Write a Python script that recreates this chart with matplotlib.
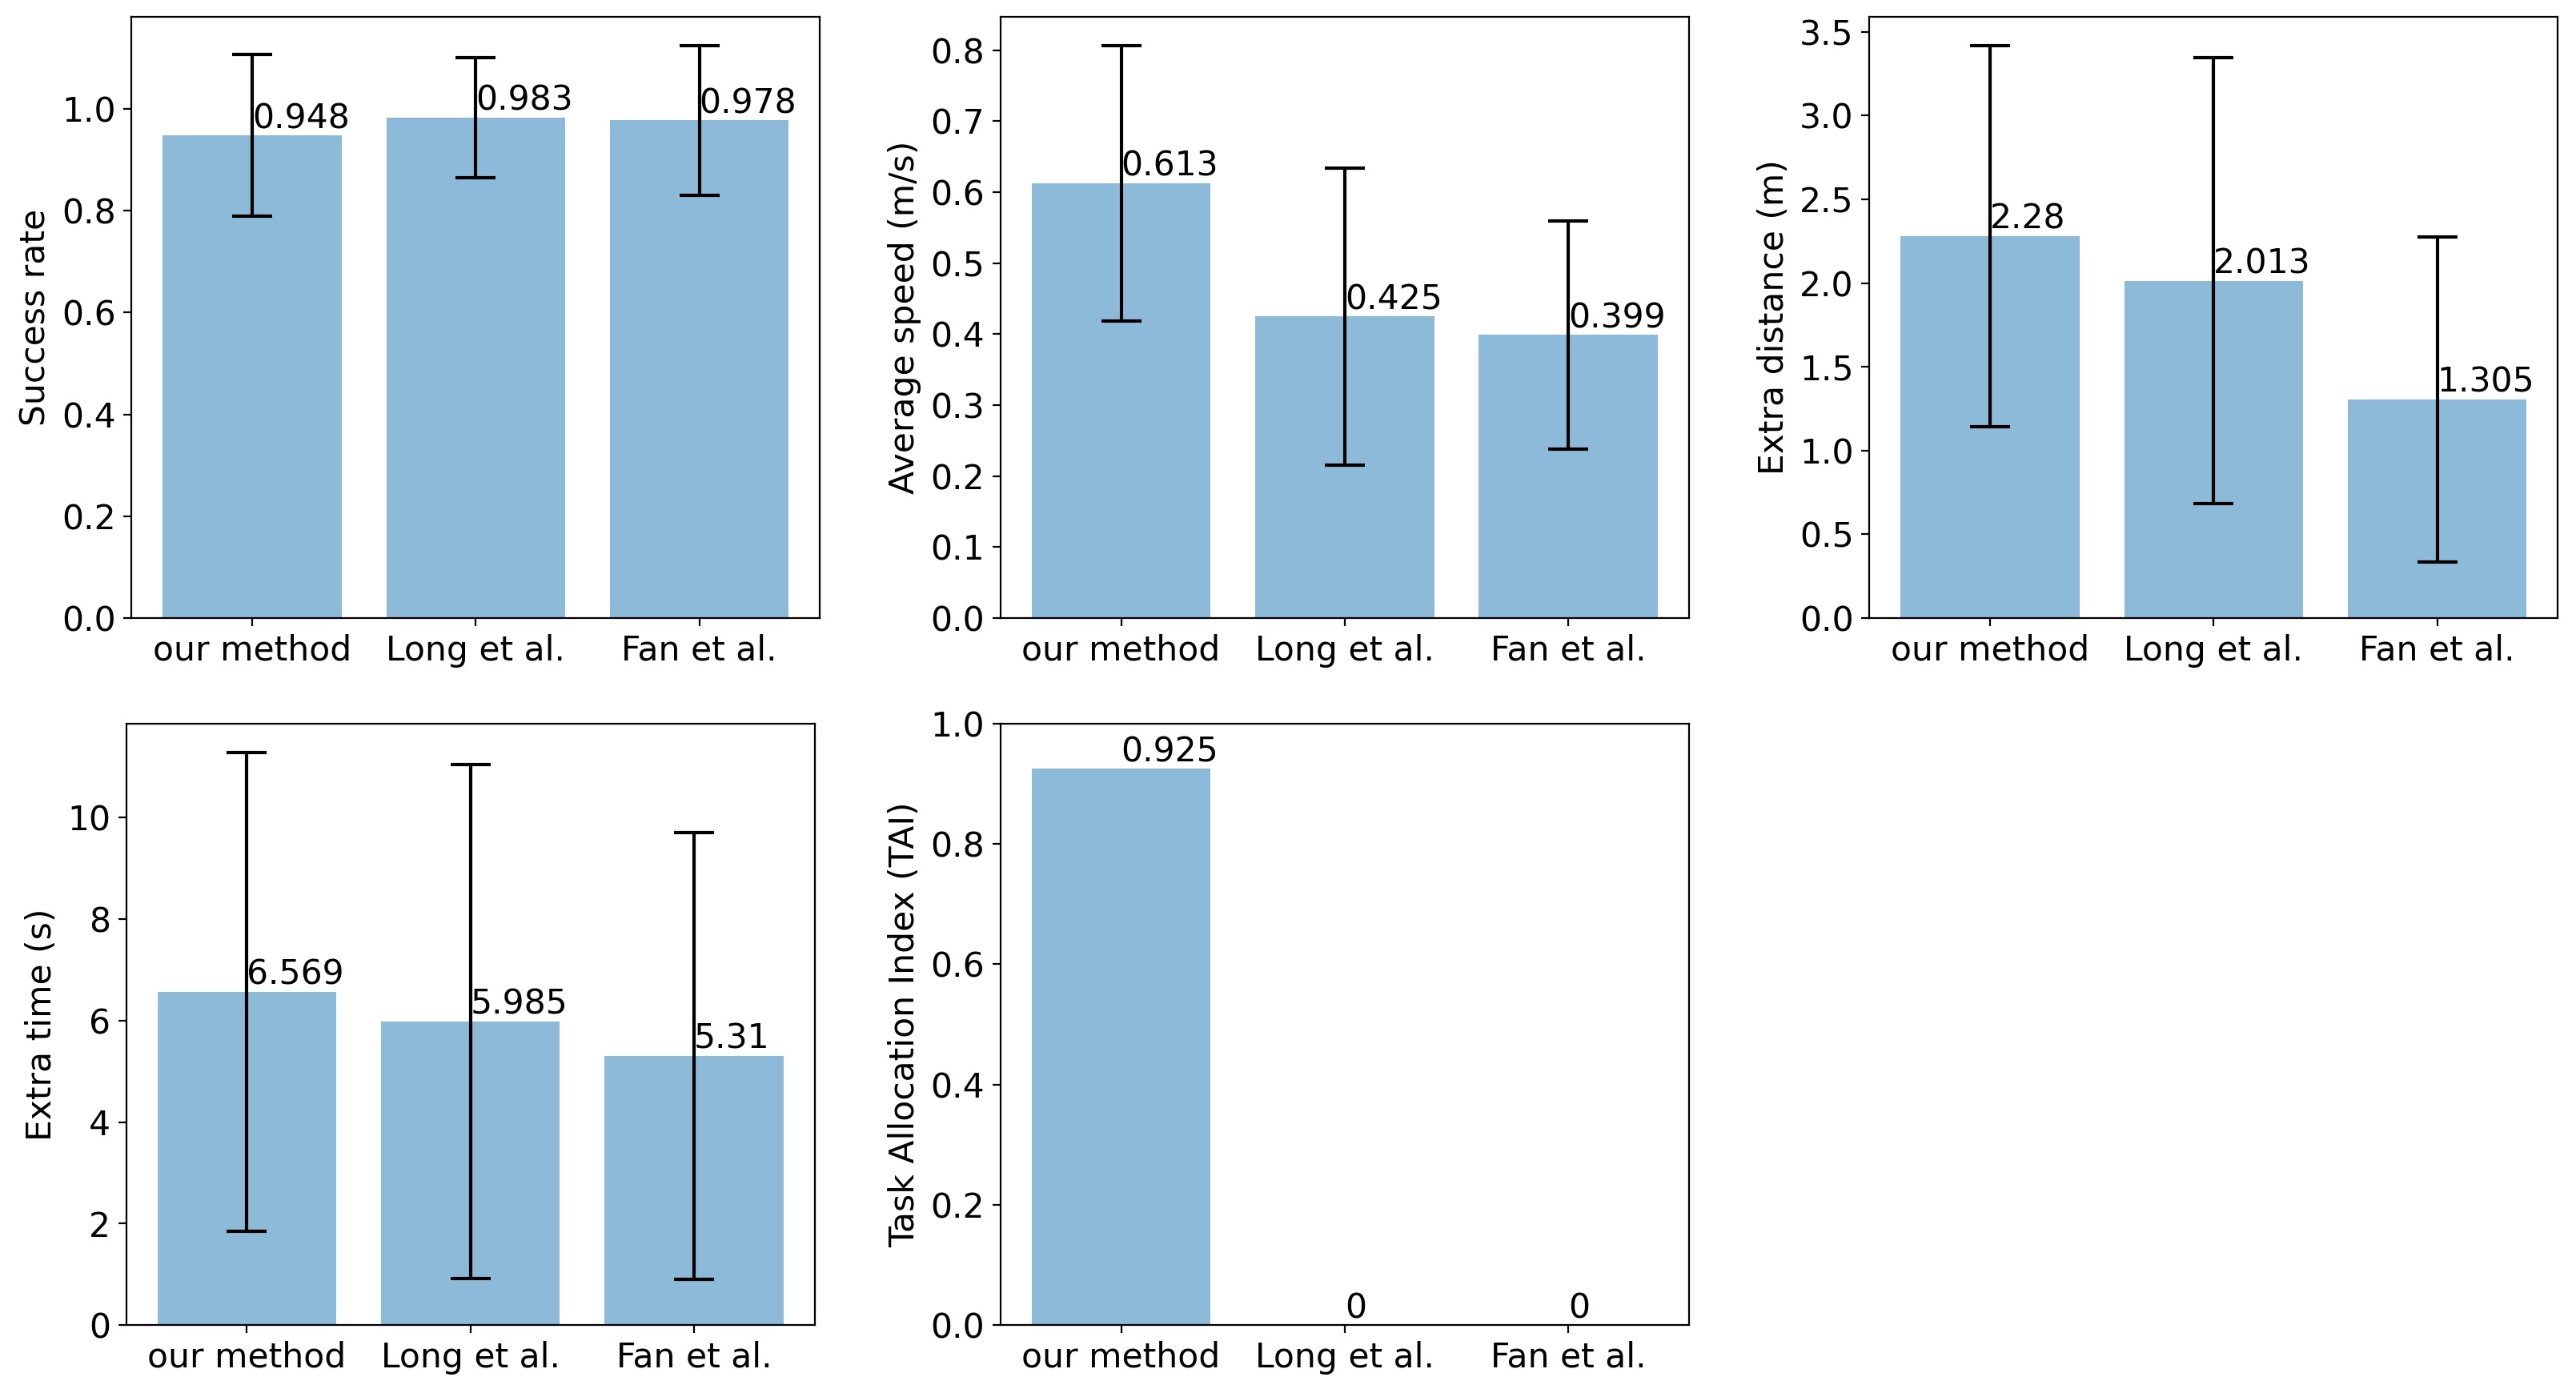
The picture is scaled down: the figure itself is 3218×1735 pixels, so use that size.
import numpy as np
import matplotlib
matplotlib.use('Agg')
import matplotlib.pyplot as plt
from matplotlib.ticker import MultipleLocator

plt.rcParams['font.size'] = 15.3

methods = ['our method', 'Long et al.', 'Fan et al.']

success_rate = [0.948, 0.983, 0.978]
success_err = [0.159, 0.118, 0.147]

avg_speed = [0.613, 0.425, 0.399]
speed_err = [0.194, 0.209, 0.161]

extra_dist = [2.28, 2.013, 1.305]
dist_err = [1.139, 1.33, 0.97]

extra_time = [6.569, 5.985, 5.31]
time_err = [4.72, 5.06, 4.40]

tai = [0.925, 0, 0]

tick_steps = [0.2, 0.1, 0.5, 2, 0.2]

panels = [
    (success_rate, success_err, 'Success rate'),
    (avg_speed, speed_err, 'Average speed (m/s)'),
    (extra_dist, dist_err, 'Extra distance (m)'),
    (extra_time, time_err, 'Extra time (s)'),
    (tai, None, 'Task Allocation Index (TAI)'),
]

fig, axes = plt.subplots(2, 3, figsize=(16.09, 8.675), dpi=200)
fig.subplots_adjust(left=0.051, right=0.993, bottom=0.046, top=0.988,
                    wspace=0.262, hspace=0.1755)
axes = axes.flatten()

x = np.arange(len(methods))
for ax, (vals, err, ylabel), step in zip(axes, panels, tick_steps):
    if err is not None:
        ax.bar(x, vals, yerr=err, color='C0', alpha=0.5, capsize=9,
               error_kw=dict(ecolor='black', elinewidth=1.5, capthick=1.5))
    else:
        ax.bar(x, vals, color='C0', alpha=0.5)
        ax.set_ylim(0, 1.0)
    for i, v in enumerate(vals):
        ax.text(x[i], v, str(v), ha='left', va='bottom')
    ax.yaxis.set_major_locator(MultipleLocator(step))
    ax.set_xticks(x)
    ax.set_xticklabels(methods)
    ax.set_ylabel(ylabel)

# bottom-left panel sits slightly further left in the original
pos = axes[3].get_position()
axes[3].set_position([pos.x0 - 0.002, pos.y0, pos.width, pos.height])

axes[5].axis('off')

fig.savefig('out.png')
